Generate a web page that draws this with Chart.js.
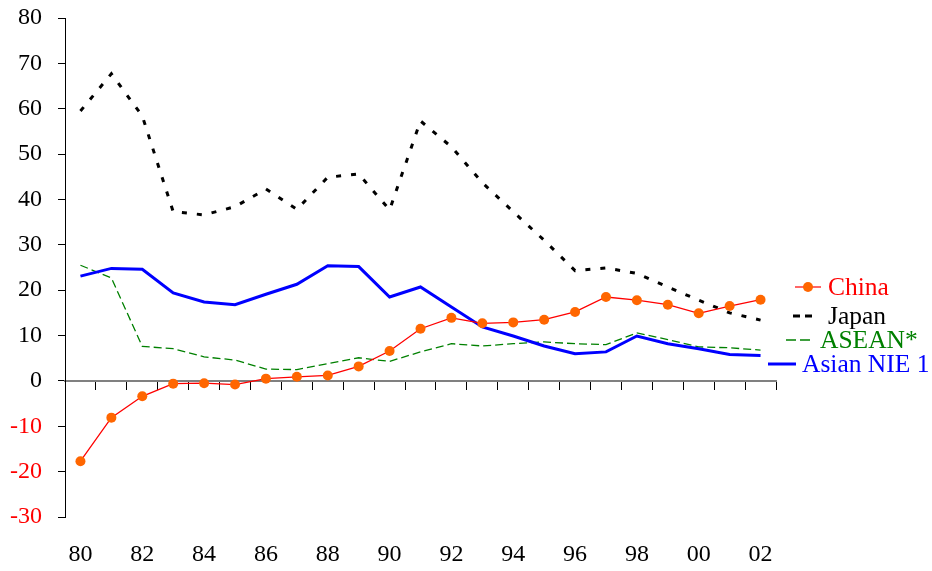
<!DOCTYPE html>
<html>
<head>
<meta charset="utf-8">
<script src="https://cdn.jsdelivr.net/npm/chart.js@4.4.1/dist/chart.umd.min.js"></script>
<style>
  html, body { margin: 0; padding: 0; background: #fff; }
  #wrap { width: 932px; height: 571px; }
</style>
</head>
<body>
<div id="wrap"><canvas id="chart"></canvas></div>
<script>
// Years 1980 - 2002, labelled every second year
const years = ['80','81','82','83','84','85','86','87','88','89','90','91','92','93','94','95','96','97','98','99','00','01','02'];

const china = [-17.7, -8.1, -3.4, -0.6, -0.5, -0.8, 0.5, 0.9, 1.2, 3.2, 6.6, 11.5, 13.9, 12.7, 12.9, 13.5, 15.2, 18.5, 17.8, 16.8, 14.9, 16.5, 17.9];
const japan = [59.5, 67.7, 58.4, 37.3, 36.6, 38.4, 42.3, 37.8, 44.9, 45.6, 37.7, 57.3, 51.6, 43.7, 37.3, 31.0, 24.3, 24.9, 23.7, 20.7, 17.8, 15.0, 13.4];
const asean = [25.5, 22.7, 7.6, 7.1, 5.3, 4.6, 2.6, 2.5, 3.8, 5.1, 4.3, 6.4, 8.2, 7.7, 8.2, 8.6, 8.2, 8.0, 10.6, 9.1, 7.5, 7.3, 6.8];
const nie = [23.1, 24.8, 24.6, 19.4, 17.4, 16.8, 19.1, 21.3, 25.4, 25.2, 18.5, 20.7, 16.3, 11.9, 9.9, 7.7, 6.0, 6.4, 9.9, 8.2, 7.1, 5.8, 5.6];

const yMin = -30;
const yMax = 80;
const yStep = 10;

const FONT = "'Liberation Serif', 'Times New Roman', serif";

// Legend drawn next to the line ends, like the original
const legendPlugin = {
    id: 'sideLegend',
    afterDraw(chart) {
        const ctx = chart.ctx;
        const items = [
            { text: 'China', color: '#FF0000', x: 828, y: 287, draw: (y) => {
                ctx.strokeStyle = '#FF0000'; ctx.lineWidth = 1.2; ctx.setLineDash([]);
                ctx.beginPath(); ctx.moveTo(795, y); ctx.lineTo(821, y); ctx.stroke();
                ctx.fillStyle = '#FF6600';
                ctx.beginPath(); ctx.arc(808, y, 5, 0, Math.PI * 2); ctx.fill();
            } },
            { text: 'Japan', color: '#000000', x: 828, y: 316, draw: (y) => {
                ctx.strokeStyle = '#000'; ctx.lineWidth = 3; ctx.setLineDash([7, 5]);
                ctx.beginPath(); ctx.moveTo(793, y); ctx.lineTo(814, y); ctx.stroke();
            } },
            { text: 'ASEAN*', color: '#008000', x: 820, y: 340, draw: (y) => {
                ctx.strokeStyle = '#008000'; ctx.lineWidth = 1.5; ctx.setLineDash([10, 4]);
                ctx.beginPath(); ctx.moveTo(786, y); ctx.lineTo(810, y); ctx.stroke();
            } },
            { text: 'Asian NIE 1', color: '#0000FF', x: 802, y: 364, draw: (y) => {
                ctx.strokeStyle = '#0000FF'; ctx.lineWidth = 3; ctx.setLineDash([]);
                ctx.beginPath(); ctx.moveTo(768, y); ctx.lineTo(796, y); ctx.stroke();
            } }
        ];
        ctx.save();
        items.forEach(it => {
            it.draw(it.y);
            ctx.setLineDash([]);
            ctx.font = '25.5px ' + FONT;
            ctx.fillStyle = it.color;
            ctx.textAlign = 'left';
            ctx.textBaseline = 'middle';
            ctx.fillText(it.text, it.x, it.y + 1);
        });
        ctx.restore();
    }
};

const ctx = document.getElementById('chart').getContext('2d');
new Chart(ctx, {
    type: 'line',
    data: {
        labels: years,
        datasets: [
            {
                label: 'Japan',
                data: japan,
                borderColor: '#000000',
                borderWidth: 3,
                borderDash: [5, 10],
                pointRadius: 0,
                tension: 0,
                order: 3
            },
            {
                label: 'ASEAN*',
                data: asean,
                borderColor: '#008000',
                borderWidth: 1.3,
                borderDash: [8, 4],
                pointRadius: 0,
                tension: 0,
                order: 2
            },
            {
                label: 'Asian NIE 1',
                data: nie,
                borderColor: '#0000FF',
                borderWidth: 3,
                pointRadius: 0,
                tension: 0,
                order: 1
            },
            {
                label: 'China',
                data: china,
                borderColor: '#FF0000',
                borderWidth: 1.3,
                pointRadius: 5,
                pointBackgroundColor: '#FF6600',
                pointBorderWidth: 0,
                tension: 0,
                order: 0
            }
        ]
    },
    options: {
        responsive: true,
        maintainAspectRatio: false,
        animation: false,
        layout: { padding: { top: 18, right: 156, bottom: 0, left: 0 } },
        plugins: {
            legend: { display: false },
            tooltip: { enabled: false }
        },
        scales: {
            x: {
                type: 'category',
                position: { y: 0 },
                offset: true,
                ticks: { display: false },
                grid: {
                    offset: true,
                    drawOnChartArea: false,
                    color: '#000',
                    lineWidth: 1,
                    tickLength: 8
                },
                border: { color: '#808080', width: 2 }
            },
            x2: {
                type: 'category',
                position: 'bottom',
                labels: years,
                offset: true,
                grid: { display: false },
                border: { display: false },
                afterFit: (s) => { s.height = 54; },
                ticks: {
                    autoSkip: false,
                    maxRotation: 0,
                    padding: 15,
                    color: '#000',
                    font: { family: FONT, size: 24 },
                    callback: (v, i) => (i % 2 === 0 ? years[i] : '')
                }
            },
            y: {
                min: yMin,
                max: yMax,
                afterFit: (s) => {
                    s.width = 65;
                    s.paddingTop = 0;
                    s.paddingBottom = 0;
                },
                ticks: {
                    stepSize: yStep,
                    padding: 16,
                    font: { family: FONT, size: 24 },
                    color: (c) => (c.tick && c.tick.value < 0 ? '#FF0000' : '#000000')
                },
                grid: {
                    drawOnChartArea: false,
                    color: '#000',
                    tickLength: 7
                },
                border: { color: '#000', width: 1 }
            }
        }
    },
    plugins: [legendPlugin]
});
</script>
</body>
</html>
